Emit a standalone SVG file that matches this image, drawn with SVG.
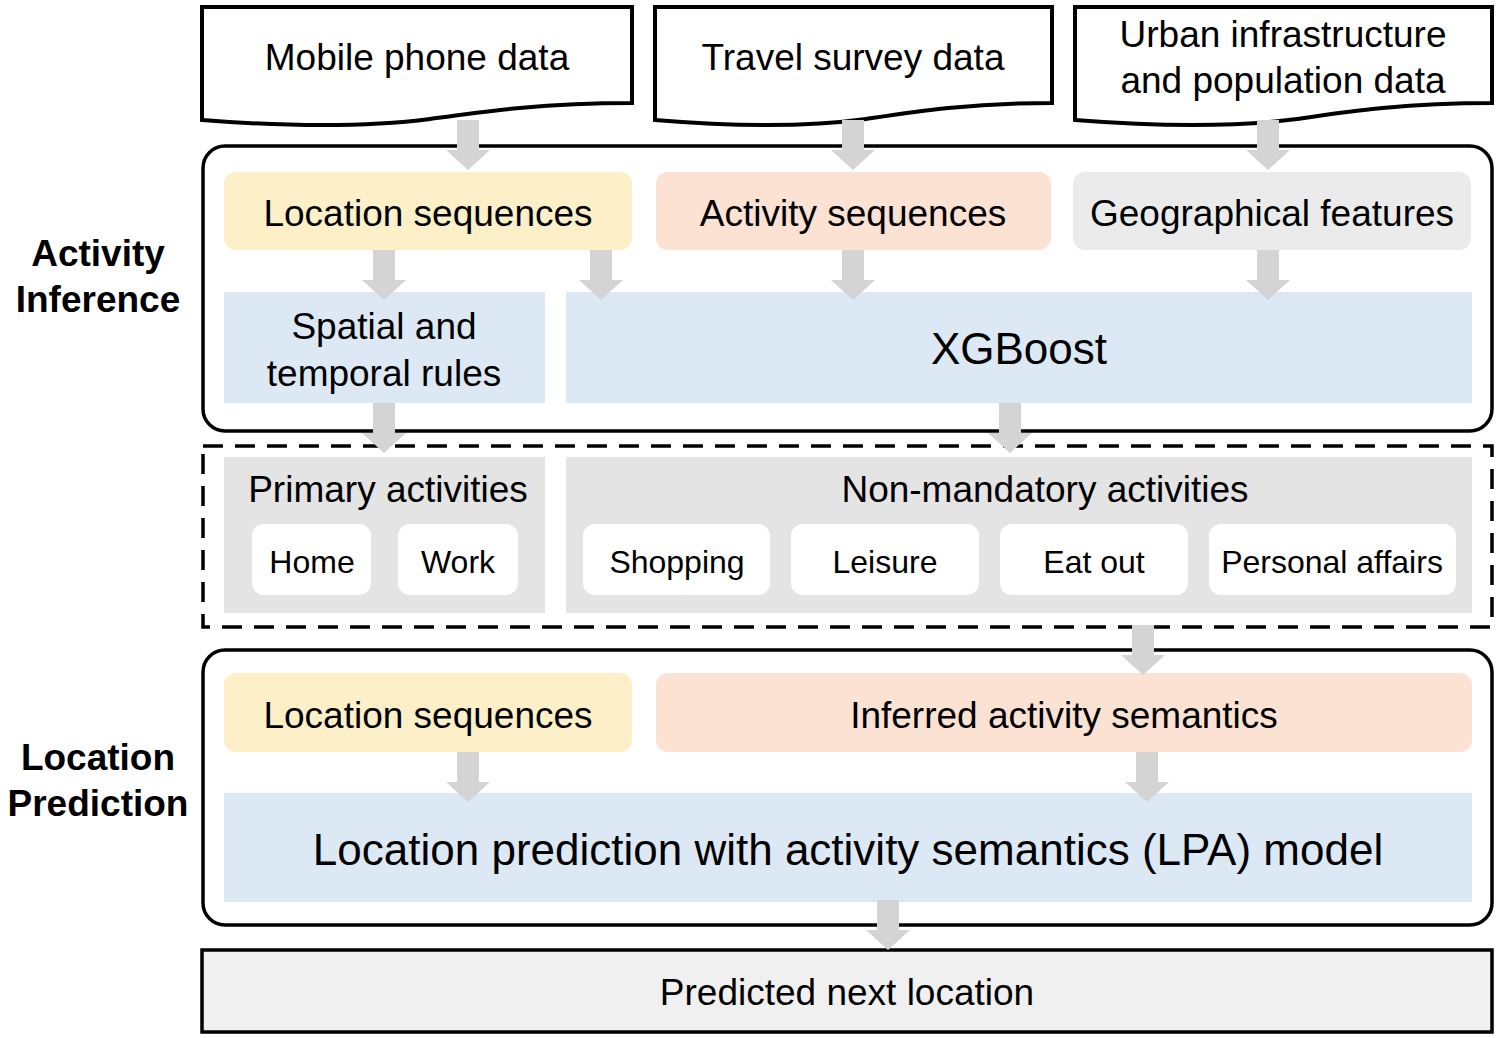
<svg xmlns="http://www.w3.org/2000/svg" width="1500" height="1038" viewBox="0 0 1500 1038">
<defs>
<style>
text{font-family:"Liberation Sans",Arial,sans-serif;fill:#000;text-anchor:middle}
.t{font-size:37px}.s{font-size:32px}.b{font-size:37px;font-weight:bold}
.doc{fill:#fff;stroke:#000;stroke-width:4}
.frame{fill:#fff;stroke:#000;stroke-width:3.5}
.arr{fill:#d4d4d4}
</style>
<path id="ar" d="M-11,0 H11 V30 H22 L0,50 L-22,30 H-11 Z"/>
</defs>
<g id="frames">
<rect class="frame" x="203" y="146" width="1289" height="285" rx="22"/>
<rect x="203" y="446" width="1289" height="181" fill="#fff" stroke="#000" stroke-width="3.5" stroke-dasharray="20,12"/>
<rect class="frame" x="203" y="650" width="1289" height="275" rx="22"/>
</g>
<g id="docs">
<path class="doc" d="M202,7 H632 V103 C540,103 480,112 430,119 C360,128 280,126 202,120 Z"/>
<text class="t" x="417" y="70">Mobile phone data</text>
<path class="doc" d="M655,7 H1052 V103 C967,103 912,112 866,119 C801,128 727,126 655,120 Z"/>
<text class="t" x="853" y="70">Travel survey data</text>
<path class="doc" d="M1075,7 H1492 V103 C1403,103 1345,112 1297,119 C1229,128 1151,126 1075,120 Z"/>
<text class="t" x="1283" y="47">Urban infrastructure</text>
<text class="t" x="1283" y="93">and population data</text>
</g>
<g id="labels">
<text class="b" x="98" y="266">Activity</text>
<text class="b" x="98" y="312">Inference</text>
<text class="b" x="98" y="770">Location</text>
<text class="b" x="98" y="816">Prediction</text>
</g>
<g id="inference">
<rect x="224" y="172" width="408" height="78" rx="12" fill="#fdf0c8"/>
<text class="t" x="428" y="226">Location sequences</text>
<rect x="656" y="172" width="395" height="78" rx="12" fill="#fbe2d3"/>
<text class="t" x="853" y="226">Activity sequences</text>
<rect x="1073" y="172" width="398" height="78" rx="12" fill="#ebebeb"/>
<text class="t" x="1272" y="226">Geographical features</text>
<rect x="224" y="292" width="321" height="111" fill="#dde8f5"/>
<text class="t" x="384" y="339">Spatial and</text>
<text class="t" x="384" y="386">temporal rules</text>
<rect x="566" y="292" width="906" height="111" fill="#dde8f5"/>
<text x="1019" y="364" style="font-size:44px">XGBoost</text>
</g>
<g id="activities">
<rect x="224" y="457" width="321" height="156" fill="#e4e4e4"/>
<text class="t" x="388" y="502">Primary activities</text>
<rect x="566" y="457" width="906" height="156" fill="#e4e4e4"/>
<text class="t" x="1045" y="502">Non-mandatory activities</text>
<g fill="#fff">
<rect x="252" y="524" width="119" height="71" rx="12"/>
<rect x="398" y="524" width="120" height="71" rx="12"/>
<rect x="583" y="524" width="187" height="71" rx="12"/>
<rect x="791" y="524" width="188" height="71" rx="12"/>
<rect x="1000" y="524" width="188" height="71" rx="12"/>
<rect x="1209" y="524" width="247" height="71" rx="12"/>
</g>
<text class="s" x="312" y="573">Home</text>
<text class="s" x="458" y="573">Work</text>
<text class="s" x="677" y="573">Shopping</text>
<text class="s" x="885" y="573">Leisure</text>
<text class="s" x="1094" y="573">Eat out</text>
<text class="s" x="1332" y="573">Personal affairs</text>
</g>
<g id="prediction">
<rect x="224" y="673" width="408" height="79" rx="12" fill="#fdf0c8"/>
<text class="t" x="428" y="728">Location sequences</text>
<rect x="656" y="673" width="816" height="79" rx="12" fill="#fbe2d3"/>
<text class="t" x="1064" y="728">Inferred activity semantics</text>
<rect x="224" y="793" width="1248" height="109" fill="#dde8f5"/>
<text x="848" y="865" style="font-size:44px">Location prediction with activity semantics (LPA) model</text>
</g>
<g id="output">
<rect x="202" y="950" width="1290" height="82" fill="#f0f0f0" stroke="#000" stroke-width="3.5"/>
<text class="t" x="847" y="1005">Predicted next location</text>
</g>
<g id="connectors" class="arr">
<use href="#ar" x="468" y="120"/>
<use href="#ar" x="853" y="120"/>
<use href="#ar" x="1268" y="120"/>
<use href="#ar" x="384" y="250"/>
<use href="#ar" x="601" y="250"/>
<use href="#ar" x="853" y="250"/>
<use href="#ar" x="1268" y="250"/>
<use href="#ar" x="384" y="403"/>
<use href="#ar" x="1010" y="403"/>
<use href="#ar" x="1143" y="625"/>
<use href="#ar" x="468" y="752"/>
<use href="#ar" x="1147" y="752"/>
<use href="#ar" x="888" y="900"/>
</g>
</svg>
